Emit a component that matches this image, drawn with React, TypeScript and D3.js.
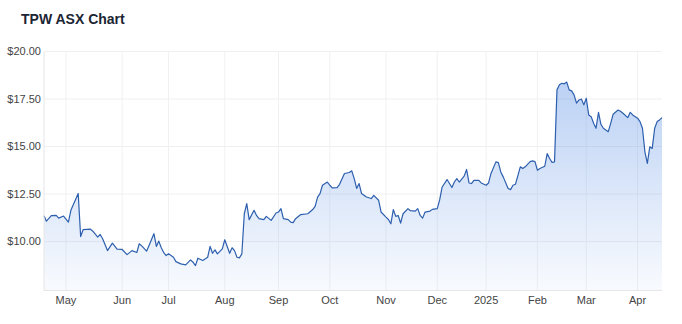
import React from "react";
import * as d3 from "d3";

const title = "TPW ASX Chart";

const tradingDay = [0,1,3,5,6,8,10,11,14,15,16,19,20,22,23,24,26,28,30,32,34,36,38,39,40,42,43,45,46,47,48,49,50,51,53,54,56,58,60,61,62,63,65,67,68,69,70,71,73,74,76,77,78,79,80,81,82,83,84,86,87,88,90,91,93,95,96,97,98,100,101,102,103,105,108,110,111,112,113,114,116,117,118,120,121,123,125,126,127,128,129,130,132,134,135,137,138,140,141,142,143,144,145,146,147,149,150,152,153,154,155,156,158,159,161,162,163,165,167,168,169,170,172,173,174,175,176,178,179,181,182,183,185,186,187,188,190,191,192,193,195,196,197,199,200,201,202,203,205,206,207,208,209,210,211,212,213,214,215,216,217,218,219,220,221,222,223,224,225,226,227,228,229,231,232,233,235,236,237,239,240,241,243,244,245,246,247,248,249,250,251,252,253];

const price = [11.35,11.07,11.36,11.37,11.23,11.34,11.02,11.64,12.52,10.26,10.62,10.65,10.54,10.23,10.37,10.14,9.52,9.91,9.59,9.58,9.31,9.52,9.42,9.88,9.77,9.49,9.79,10.41,9.74,10.02,9.67,9.42,9.26,9.35,9.17,8.94,8.82,8.77,9.03,8.91,8.73,9.12,9.0,9.17,9.74,9.38,9.56,9.35,9.61,10.09,9.38,9.67,9.52,9.17,9.14,9.35,11.46,11.99,11.15,11.64,11.37,11.2,11.15,11.32,11.11,11.5,11.55,11.73,11.2,11.15,11.02,10.99,11.2,11.41,11.46,11.68,11.85,12.34,12.52,12.96,13.13,12.96,12.82,12.84,13.01,13.58,13.63,13.72,13.31,12.79,13.05,12.52,12.34,12.26,12.43,12.17,11.55,11.28,11.16,10.93,11.68,11.32,11.37,10.97,11.46,11.73,11.62,11.6,11.73,11.37,11.23,11.55,11.6,11.69,11.73,12.2,12.87,13.26,12.84,13.13,13.31,13.13,13.44,13.79,13.08,13.05,13.22,13.22,13.08,12.96,13.08,13.58,14.19,14.15,13.66,13.4,12.79,12.73,12.96,13.01,13.93,13.84,13.93,14.2,14.24,14.2,13.75,13.84,13.96,14.63,14.37,14.16,14.19,17.98,18.25,18.33,18.3,18.39,17.98,17.93,17.72,17.28,17.45,17.5,17.19,17.54,16.66,16.57,16.22,15.96,16.8,16.17,15.96,15.78,16.22,16.7,16.92,16.85,16.75,16.52,16.8,16.66,16.49,16.31,15.96,14.72,14.11,14.98,14.9,15.96,16.31,16.4,16.52];

const monthLabels = ["May","Jun","Jul","Aug","Sep","Oct","Nov","Dec","2025","Feb","Mar","Apr"];
const monthDay = [9,32,51,74,96,117,140,161,181,202,222,243];

const yTicks = [10, 12.5, 15, 17.5, 20];

const W = 682, H = 324;
const left = 44, right = 662, top = 51.5, bottom = 290.5;
const FONT = "'Liberation Sans', Arial, Helvetica, sans-serif";

export default function App() {
  const x = d3.scaleLinear().domain([0, 253]).range([left, right]);
  const y = d3.scaleLinear().domain([7.42, 20]).range([bottom, top]);
  const pts = tradingDay.map((d, i) => [d, price[i]] as [number, number]);
  const line = d3.line<[number, number]>().x(d => x(d[0])).y(d => y(d[1]));
  const area = d3.area<[number, number]>().x(d => x(d[0])).y0(bottom).y1(d => y(d[1]));
  const fmt = (v: number) => "$" + d3.format(".2f")(v);

  return (
    <svg width={W} height={H} style={{ position: "absolute", left: 0, top: 0, background: "#fff" }} fontFamily={FONT}>
      <defs>
        <linearGradient id="fillGrad" gradientUnits="userSpaceOnUse" x1="0" y1={top} x2="0" y2={bottom}>
          <stop offset="0" stopColor="rgb(88,142,228)" stopOpacity={0.46} />
          <stop offset="1" stopColor="rgb(88,142,228)" stopOpacity={0.04} />
        </linearGradient>
      </defs>
      <text x={21} y={24} fontSize={14} fontWeight="bold" fill="#1b2533">{title}</text>
      {yTicks.map(t => (
        <g key={t}>
          <line x1={left} x2={right} y1={y(t)} y2={y(t)} stroke="#efefef" strokeWidth={1} />
          <text x={41} y={y(t)} dy="0.35em" textAnchor="end" fontSize={11} fill="#444">{fmt(t)}</text>
        </g>
      ))}
      {monthDay.map((d, i) => (
        <g key={d}>
          <line x1={x(d)} x2={x(d)} y1={top} y2={bottom} stroke="#f1f1f1" strokeWidth={1} />
          <text x={x(d)} y={304} textAnchor="middle" fontSize={11} fill="#444">{monthLabels[i]}</text>
        </g>
      ))}
      <path d={area(pts) || ""} fill="url(#fillGrad)" />
      <path d={line(pts) || ""} fill="none" stroke="#2d5fae" strokeWidth={1.2} strokeLinejoin="round" />
      <line x1={left} x2={left} y1={top} y2={bottom} stroke="#e6e6e6" />
      <line x1={left} x2={right} y1={bottom} y2={bottom} stroke="#e6e6e6" />
    </svg>
  );
}
